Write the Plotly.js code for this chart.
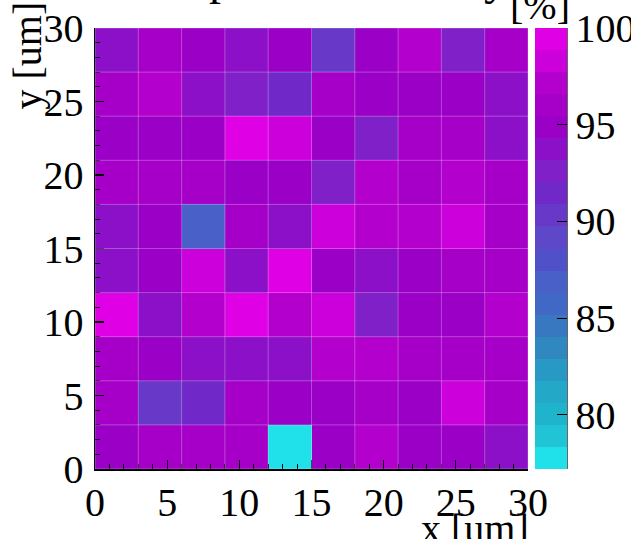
<!DOCTYPE html>
<html>
<head>
<meta charset="utf-8">
<script src="https://cdn.plot.ly/plotly-3.0.1.min.js"></script>
<style>html,body{margin:0;padding:0;background:#fff;}#chart{width:631px;height:539px;}</style>
</head>
<body>
<div id="chart"></div>
<script>
// bin centers (um)
const xCenters = [1.5, 4.5, 7.5, 10.5, 13.5, 16.5, 19.5, 22.5, 25.5, 28.5];
const yCenters = [1.5, 4.5, 7.5, 10.5, 13.5, 16.5, 19.5, 22.5, 25.5, 28.5];
const binEdges = [0, 3, 6, 9, 12, 15, 18, 21, 24, 27, 30];

// efficiency [%], one row per y bin (bottom to top)
const effY0 = [94.9, 96.0, 96.1, 95.9, 77.2, 94.8, 97.2, 94.9, 94.7, 93.6];
const effY1 = [96.0, 90.3, 91.5, 96.0, 94.9, 94.6, 96.1, 94.8, 98.3, 96.0];
const effY2 = [96.0, 94.8, 93.7, 93.6, 93.8, 97.1, 97.2, 96.0, 95.9, 96.1];
const effY3 = [99.6, 93.7, 97.1, 99.3, 97.2, 98.3, 92.6, 94.9, 94.8, 97.1];
const effY4 = [93.7, 94.6, 98.3, 93.7, 99.8, 94.8, 93.6, 94.9, 96.0, 96.1];
const effY5 = [93.6, 94.8, 86.8, 96.0, 93.7, 98.3, 97.1, 97.2, 98.2, 96.0];
const effY6 = [96.0, 95.9, 96.1, 94.6, 94.9, 92.6, 97.1, 96.0, 97.2, 96.1];
const effY7 = [94.9, 94.7, 94.8, 100.0, 98.3, 94.6, 92.5, 96.0, 96.1, 93.7];
const effY8 = [96.0, 97.1, 93.7, 92.6, 91.4, 96.0, 94.7, 94.9, 94.8, 93.6];
const effY9 = [93.7, 96.0, 94.8, 93.6, 94.9, 90.3, 94.8, 97.2, 92.5, 96.1];

const zMin = 77.2, zMax = 100;
const zTickVals = [80, 85, 90, 95, 100];
const xTickVals = [0, 5, 10, 15, 20, 25, 30];
const yTickVals = [0, 5, 10, 15, 20, 25, 30];

// 20-level palette (low -> high)
const palette = ['#20E0EA','#20C4D4','#20B4CC','#24A8C8','#2898C4','#3088C0','#3878C0','#4068C4',
  '#4860C8','#5050C8','#5C48C8','#6838C8','#7028C8','#8020C8','#8C10C8','#9A00C6',
  '#A600C8','#B400CC','#CC00DA','#E000E6'];

const nLev = palette.length;
const colorscale = [];
palette.forEach((c, i) => { colorscale.push([i / nLev, c]); colorscale.push([(i + 1) / nLev, c]); });

const z = [effY0, effY1, effY2, effY3, effY4, effY5, effY6, effY7, effY8, effY9];

const FONT = 'Liberation Serif, Times New Roman, serif';
const FS = 40;

// plot-area geometry helpers (pixels)
const W = 631, H = 539, L = 95, R = 103, T = 28, B = 70;
const pw = W - L - R, ph = H - T - B;
const px2paperX = p => (p - L) / pw;
const px2paperY = p => (H - B - p) / ph;

const shapes = [];
binEdges.forEach(e => {
  shapes.push({type:'line', xref:'x', yref:'y', x0:e, x1:e, y0:binEdges[0], y1:binEdges[binEdges.length-1],
    line:{color:'rgba(255,255,255,0.28)', width:1}, layer:'above'});
  shapes.push({type:'line', xref:'x', yref:'y', y0:e, y1:e, x0:binEdges[0], x1:binEdges[binEdges.length-1],
    line:{color:'rgba(255,255,255,0.28)', width:1}, layer:'above'});
});
const cbLpx = 535, cbRpx = 567;
const cbL = px2paperX(cbLpx), cbR = px2paperX(cbRpx);
for (let i = 1; i < nLev; i++) {
  const yy = i / nLev;
  shapes.push({type:'line', xref:'paper', yref:'paper', x0:cbL, x1:cbR, y0:yy, y1:yy,
    line:{color:'rgba(255,255,255,0.3)', width:1}, layer:'above'});
}
shapes.push({type:'line', xref:'paper', yref:'paper', x0:cbR, x1:cbR, y0:0, y1:1,
  line:{color:'#000', width:1.2}, layer:'above'});

const trace = {
  type:'heatmap', x:xCenters, y:yCenters, z:z,
  zmin:zMin, zmax:zMax, colorscale:colorscale, zsmooth:false,
  colorbar:{
    xref:'container', x:cbLpx / W, xanchor:'left', xpad:0, ypad:0, y:0.5, yanchor:'middle', len:1, lenmode:'fraction',
    thickness:cbRpx - cbLpx, thicknessmode:'pixels', outlinewidth:0,
    tickvals:zTickVals, ticktext:zTickVals.map(String), ticks:'inside', ticklen:10, tickwidth:1.2, tickcolor:'#000',
    tickfont:{family:FONT, size:FS, color:'#000'}, ticklabelposition:'outside'
  }
};

const axisCommon = {
  range:[0,30], showgrid:false, zeroline:false, showline:true, linecolor:'#000', linewidth:1.5,
  ticks:'inside', ticklen:9, tickwidth:1.2, tickcolor:'#000', mirror:false,
  tickfont:{family:FONT, size:FS, color:'#000'},
  minor:{ticks:'inside', dtick:1, ticklen:5, tickwidth:1, tickcolor:'#000', showgrid:false},
  layer:'above traces', fixedrange:true, automargin:false
};

const layout = {
  width:W, height:H, margin:{l:L, r:R, t:T, b:B, pad:0, autoexpand:false},
  paper_bgcolor:'#fff', plot_bgcolor:'#fff', showlegend:false,
  xaxis:Object.assign({}, axisCommon, {tickvals:xTickVals, ticktext:xTickVals.map(String), ticklabelstandoff:-3}),
  yaxis:Object.assign({}, axisCommon, {tickvals:yTickVals, ticktext:yTickVals.map(String), ticklabelstandoff:2}),
  shapes:shapes,
  annotations:[
    {text:'In-pixel efficiency', xref:'paper', yref:'paper', x:px2paperX(330), y:px2paperY(6),
      xanchor:'center', yanchor:'bottom', showarrow:false, font:{family:FONT, size:48, color:'#000'}},
    {text:'x [um]', xref:'paper', yref:'paper', x:px2paperX(531), y:px2paperY(504),
      xanchor:'right', yanchor:'top', showarrow:false, font:{family:FONT, size:FS, color:'#000'}},
    {text:'y [um]', xref:'paper', yref:'paper', x:px2paperX(2), y:px2paperY(0), textangle:-90,
      xanchor:'left', yanchor:'top', showarrow:false, font:{family:FONT, size:FS, color:'#000'}},
    {text:'[%]', xref:'paper', yref:'paper', x:px2paperX(572), y:px2paperY(30),
      xanchor:'right', yanchor:'bottom', showarrow:false, font:{family:FONT, size:FS, color:'#000'}}
  ]
};

Plotly.newPlot('chart', [trace], layout, {displayModeBar:false, staticPlot:true});
</script>
</body>
</html>
